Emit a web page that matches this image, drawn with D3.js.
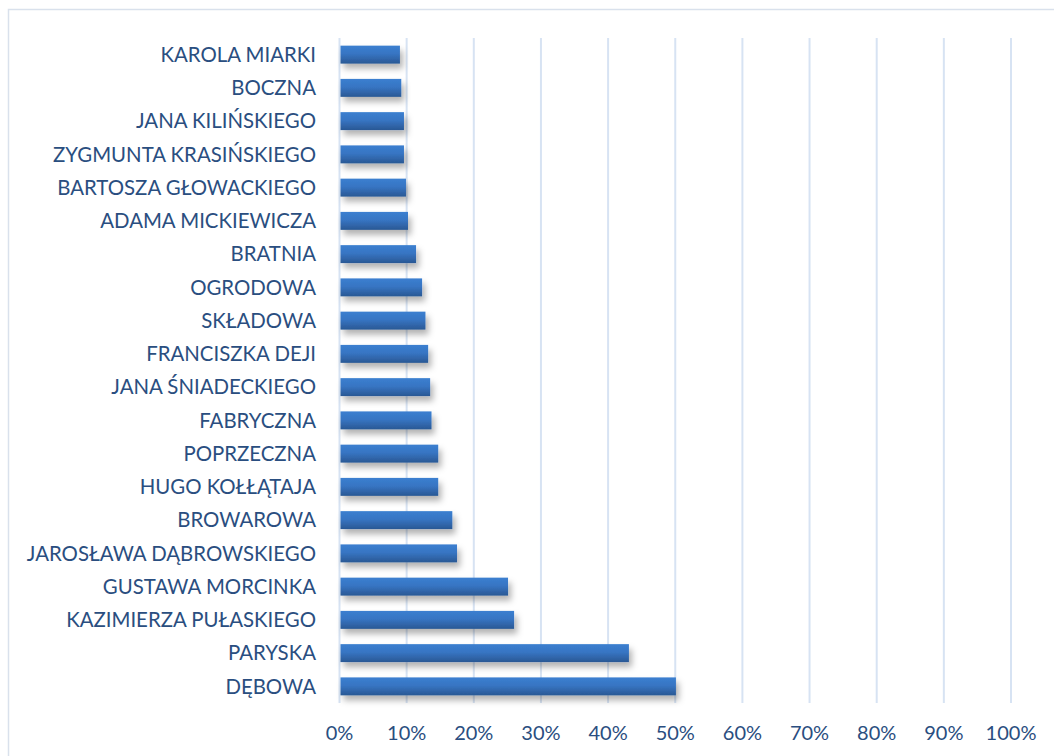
<!DOCTYPE html>
<html lang="pl">
<head>
    <meta charset="utf-8" />
    <title>Ulice</title>
    <script src="https://cdn.jsdelivr.net/npm/d3@7"></script>
    <style>
    body{
      margin:0;
      background:#fff;
      font-family: Lato, "Noto Sans", sans-serif;
    }
    svg { display:block; }
    .lbl { fill:#2a4e80; font-size:20.4px; }
    .tick-lbl { fill:#2a4e80; font-size:20px; }
    .grid line { stroke:#d7e3f3; stroke-width:2px; }
    </style>
</head>
<body>
<div id="chart"></div>
<script>
  var width = 1054;
  var height = 756;

  // streets, top to bottom
  var streets = ["KAROLA MIARKI", "BOCZNA", "JANA KILIŃSKIEGO", "ZYGMUNTA KRASIŃSKIEGO",
    "BARTOSZA GŁOWACKIEGO", "ADAMA MICKIEWICZA", "BRATNIA", "OGRODOWA", "SKŁADOWA",
    "FRANCISZKA DEJI", "JANA ŚNIADECKIEGO", "FABRYCZNA", "POPRZECZNA", "HUGO KOŁŁĄTAJA",
    "BROWAROWA", "JAROSŁAWA DĄBROWSKIEGO", "GUSTAWA MORCINKA", "KAZIMIERZA PUŁASKIEGO",
    "PARYSKA", "DĘBOWA"];
  var shares = [0.090, 0.092, 0.096, 0.096, 0.099, 0.102, 0.114, 0.123, 0.128,
    0.132, 0.135, 0.137, 0.147, 0.147, 0.168, 0.175, 0.251, 0.260, 0.431, 0.501];
  var ticks = [0, 0.1, 0.2, 0.3, 0.4, 0.5, 0.6, 0.7, 0.8, 0.9, 1.0];

  var data = streets.map(function(s, i){ return {name: s, v: shares[i]}; });

  var x = d3.scaleLinear().domain([0, 1]).range([339.5, 1011]);
  var y = d3.scaleBand().domain(streets).range([38, 703]).paddingInner(0.46).paddingOuter(0.23);

  var svg = d3.select("#chart").append("svg")
      .attr("width", width)
      .attr("height", height);

  var defs = svg.append("defs");
  var grad = defs.append("linearGradient")
      .attr("id", "barGrad")
      .attr("x1", 0).attr("y1", 0).attr("x2", 0).attr("y2", 1);
  grad.append("stop").attr("offset", "0%").attr("stop-color", "#3b7fd0");
  grad.append("stop").attr("offset", "45%").attr("stop-color", "#3775c3");
  grad.append("stop").attr("offset", "100%").attr("stop-color", "#2a5894");

  var shadow = defs.append("filter").attr("id", "shadow")
      .attr("x", "-5%").attr("y", "-30%").attr("width", "120%").attr("height", "200%");
  shadow.append("feDropShadow")
      .attr("dx", 3).attr("dy", 5).attr("stdDeviation", 3)
      .attr("flood-color", "#000").attr("flood-opacity", 0.3);

  // chart frame
  svg.append("rect")
      .attr("x", 8.5).attr("y", 9.5)
      .attr("width", 1100).attr("height", 800)
      .attr("fill", "none")
      .attr("stroke", "#d9e1ec")
      .attr("stroke-width", 1.5);

  // vertical gridlines
  svg.append("g")
      .attr("class", "grid")
      .selectAll("line")
      .data(ticks)
      .enter().append("line")
      .attr("x1", function(d){ return x(d); })
      .attr("x2", function(d){ return x(d); })
      .attr("y1", 38)
      .attr("y2", 703);

  // bars
  svg.append("g")
      .selectAll("rect")
      .data(data)
      .enter().append("rect")
      .attr("x", x(0) + 1)
      .attr("y", function(d){ return y(d.name); })
      .attr("width", function(d){ return x(d.v) - x(0) - 1; })
      .attr("height", y.bandwidth())
      .attr("fill", "url(#barGrad)")
      .attr("filter", "url(#shadow)");

  // category labels
  svg.append("g")
      .selectAll("text")
      .data(data)
      .enter().append("text")
      .attr("class", "lbl")
      .attr("x", 316)
      .attr("y", function(d){ return y(d.name) + y.bandwidth() / 2; })
      .attr("dy", "0.35em")
      .attr("text-anchor", "end")
      .text(function(d){ return d.name; });

  // x tick labels
  var fmt = d3.format(".0%");
  svg.append("g")
      .selectAll("text")
      .data(ticks)
      .enter().append("text")
      .attr("class", "tick-lbl")
      .attr("x", function(d){ return x(d); })
      .attr("y", 733)
      .attr("dy", "0.35em")
      .attr("text-anchor", "middle")
      .text(function(d){ return fmt(d); });
</script>
</body>
</html>
